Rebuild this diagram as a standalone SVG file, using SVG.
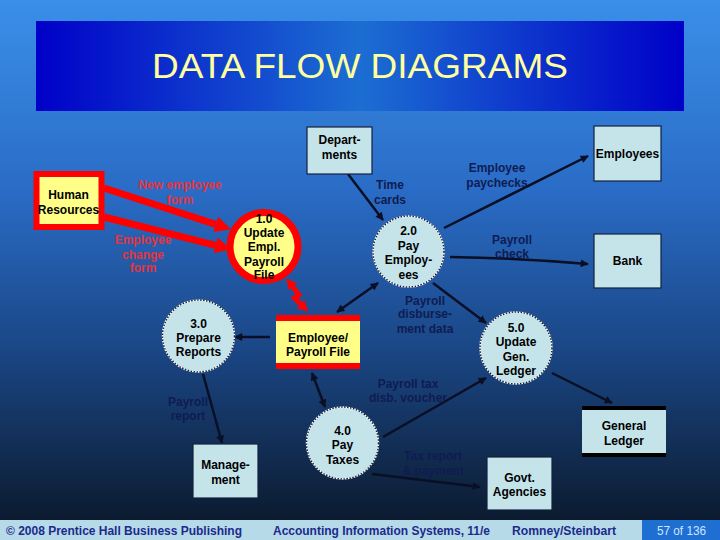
<svg xmlns="http://www.w3.org/2000/svg" width="720" height="540" viewBox="0 0 720 540">
<defs>
  <linearGradient id="bg" x1="0" y1="0" x2="0" y2="1">
    <stop offset="0" stop-color="#3a8fe8"/>
    <stop offset="0.35" stop-color="#2a6cc6"/>
    <stop offset="0.65" stop-color="#1a4684"/>
    <stop offset="1" stop-color="#0a1626"/>
  </linearGradient>
  <linearGradient id="tg" x1="0" y1="0" x2="1" y2="0">
    <stop offset="0" stop-color="#0000c8"/>
    <stop offset="0.5" stop-color="#1c6ed2"/>
    <stop offset="1" stop-color="#0000c8"/>
  </linearGradient>
  <marker id="ah" viewBox="0 0 10 10" refX="9" refY="5" markerWidth="10" markerHeight="8" markerUnits="userSpaceOnUse" orient="auto-start-reverse">
    <path d="M0,0 L10,5 L0,10 z" fill="#0a0f25"/>
  </marker>
  <marker id="ra" viewBox="0 0 10 10" refX="0" refY="5" markerWidth="16" markerHeight="18" markerUnits="userSpaceOnUse" orient="auto-start-reverse">
    <path d="M0,0 L10,5 L0,10 z" fill="#ff0000"/>
  </marker>
  <marker id="rs" viewBox="0 0 10 10" refX="0" refY="5" markerWidth="11" markerHeight="13" markerUnits="userSpaceOnUse" orient="auto-start-reverse">
    <path d="M0,0 L10,5 L0,10 z" fill="#ff0000"/>
  </marker>
</defs>
<style>
  text { font-family: "Liberation Sans", Arial, sans-serif; font-weight: bold; font-size: 12px; text-anchor: middle; }
  .nt { fill: #000000; }
  .fl { fill: #0f1c52; }
  .rl { fill: #e23440; }
  .box { fill: #c4e4ea; stroke: #14213f; stroke-width: 1.2; }
  .proc { fill: #c4e4ea; stroke: #ffffff; stroke-width: 1.5; }
  .procd { fill: none; stroke: #14213f; stroke-width: 1.5; stroke-dasharray: 1.5 1.5; }
  .cn { stroke: #0a0f25; stroke-width: 2.5; fill: none; marker-end: url(#ah); }
  .cn2 { stroke: #0a0f25; stroke-width: 2.5; fill: none; marker-end: url(#ah); marker-start: url(#ah); }
  .red { stroke: #ff0000; stroke-width: 7; fill: none; marker-end: url(#ra); }
  .ft { fill: #1c2a8c; font-size: 12px; }
</style>

<rect x="0" y="0" width="720" height="540" fill="url(#bg)"/>

<g id="title">
  <rect x="36" y="21" width="648" height="90" fill="url(#tg)"/>
  <text x="360" y="78" style="font-weight:normal;font-size:35px;fill:#ffffa0" textLength="416" lengthAdjust="spacingAndGlyphs">DATA FLOW DIAGRAMS</text>
</g>

<g id="connectors">
  <line class="red" x1="104" y1="188" x2="215.7" y2="224.4"/>
  <line class="red" x1="104" y1="217" x2="215.5" y2="245.3"/>
  <path d="M293,287 L299,295 L294.5,298 L300.5,304" stroke="#ff0000" stroke-width="5" fill="none" stroke-linejoin="miter" marker-start="url(#rs)" marker-end="url(#rs)"/>
  <line class="cn" x1="348" y1="174" x2="383" y2="220"/>
  <line class="cn" x1="444" y1="228" x2="588" y2="156"/>
  <path class="cn" d="M450,257 Q520,258 588,264"/>
  <line class="cn" x1="433" y1="283" x2="486" y2="323"/>
  <line class="cn2" x1="337" y1="312" x2="378" y2="283"/>
  <line class="cn" x1="270" y1="337" x2="235" y2="337"/>
  <line class="cn2" x1="312" y1="373" x2="325" y2="407"/>
  <line class="cn" x1="203" y1="374" x2="222" y2="443"/>
  <line class="cn" x1="383" y1="437" x2="486" y2="378"/>
  <line class="cn" x1="552" y1="373" x2="612" y2="403"/>
  <line class="cn" x1="372" y1="474" x2="480" y2="487"/>
</g>

<g id="human-resources">
  <rect x="36.5" y="174" width="65" height="53" fill="#ffff88" stroke="#ff0000" stroke-width="6"/>
  <text class="nt" x="68.5" y="198.5">Human</text>
  <text class="nt" x="68.5" y="213.5">Resources</text>
</g>

<g id="p1">
  <circle cx="264" cy="246.5" r="34" fill="#ffff88" stroke="#ff0000" stroke-width="7"/>
  <text class="nt" x="264" y="222.5">1.0</text>
  <text class="nt" x="264" y="236.5">Update</text>
  <text class="nt" x="264" y="250.5">Empl.</text>
  <text class="nt" x="264" y="265.5">Payroll</text>
  <text class="nt" x="264" y="278.5">File</text>
</g>

<g id="departments">
  <rect class="box" x="307" y="127" width="65" height="47"/>
  <text class="nt" x="339.5" y="143.5">Depart-</text>
  <text class="nt" x="339.5" y="158.5">ments</text>
</g>

<g id="p2">
  <circle class="proc" cx="408.5" cy="251.5" r="35.5"/>
  <circle class="procd" cx="408.5" cy="251.5" r="35.5"/>
  <text class="nt" x="408.5" y="234.5">2.0</text>
  <text class="nt" x="408.5" y="249.5">Pay</text>
  <text class="nt" x="408.5" y="263.5">Employ-</text>
  <text class="nt" x="408.5" y="278.5">ees</text>
</g>

<g id="employees">
  <rect class="box" x="594" y="126" width="67" height="55"/>
  <text class="nt" x="627.5" y="157.5">Employees</text>
</g>

<g id="bank">
  <rect class="box" x="594" y="234" width="67" height="54"/>
  <text class="nt" x="627.5" y="264.5">Bank</text>
</g>

<g id="p3">
  <circle class="proc" cx="198.5" cy="336" r="36"/>
  <circle class="procd" cx="198.5" cy="336" r="36"/>
  <text class="nt" x="198.5" y="327.5">3.0</text>
  <text class="nt" x="198.5" y="341.5">Prepare</text>
  <text class="nt" x="198.5" y="355.5">Reports</text>
</g>

<g id="payroll-file">
  <rect x="276" y="315" width="84" height="54" fill="#ffff88"/>
  <rect x="276" y="315" width="84" height="6" fill="#ff0000"/>
  <rect x="276" y="363" width="84" height="6" fill="#ff0000"/>
  <text class="nt" x="318" y="341.5">Employee/</text>
  <text class="nt" x="318" y="355.5">Payroll File</text>
</g>

<g id="p5">
  <circle class="proc" cx="516" cy="348" r="36"/>
  <circle class="procd" cx="516" cy="348" r="36"/>
  <text class="nt" x="516" y="331.5">5.0</text>
  <text class="nt" x="516" y="345.5">Update</text>
  <text class="nt" x="516" y="360.5">Gen.</text>
  <text class="nt" x="516" y="374.5">Ledger</text>
</g>

<g id="management">
  <rect class="box" x="193" y="444" width="65" height="54"/>
  <text class="nt" x="225.5" y="468.5">Manage-</text>
  <text class="nt" x="225.5" y="483.5">ment</text>
</g>

<g id="p4">
  <circle class="proc" cx="342.5" cy="443" r="36"/>
  <circle class="procd" cx="342.5" cy="443" r="36"/>
  <text class="nt" x="342.5" y="434.5">4.0</text>
  <text class="nt" x="342.5" y="448.5">Pay</text>
  <text class="nt" x="342.5" y="463.5">Taxes</text>
</g>

<g id="general-ledger">
  <rect x="582" y="406" width="84" height="51" fill="#c4e4ea"/>
  <rect x="582" y="406" width="84" height="4" fill="#000000"/>
  <rect x="582" y="453" width="84" height="4" fill="#000000"/>
  <text class="nt" x="624" y="429.5">General</text>
  <text class="nt" x="624" y="444.5">Ledger</text>
</g>

<g id="govt-agencies">
  <rect class="box" x="487" y="457" width="65" height="53"/>
  <text class="nt" x="519.5" y="481.5">Govt.</text>
  <text class="nt" x="519.5" y="495.5">Agencies</text>
</g>

<g id="flow-labels">
  <text class="rl" x="180" y="188.5">New employee</text>
  <text class="rl" x="180" y="204">form</text>
  <text class="rl" x="143" y="243.5">Employee</text>
  <text class="rl" x="143" y="258.5">change</text>
  <text class="rl" x="143" y="271.5">form</text>
  <text class="fl" x="390" y="188.5">Time</text>
  <text class="fl" x="390" y="203.5">cards</text>
  <text class="fl" x="497" y="171.5">Employee</text>
  <text class="fl" x="497" y="186.5">paychecks</text>
  <text class="fl" x="512" y="243.5">Payroll</text>
  <text class="fl" x="512" y="257.5">check</text>
  <text class="fl" x="425" y="304.5">Payroll</text>
  <text class="fl" x="425" y="317.5">disburse-</text>
  <text class="fl" x="425" y="332.5">ment data</text>
  <text class="fl" x="408" y="387.5">Payroll tax</text>
  <text class="fl" x="408" y="401.5">disb. voucher</text>
  <text class="fl" x="188" y="405.5">Payroll</text>
  <text class="fl" x="188" y="420">report</text>
  <text class="fl" x="433" y="459.5">Tax report</text>
  <text class="fl" x="433" y="474.5">&amp; payment</text>
</g>

<g id="footer">
  <rect x="0" y="520" width="720" height="20" fill="#b6dae8"/>
  <rect x="642" y="520" width="78" height="20" fill="#1f6fd2"/>
  <text class="ft" x="124" y="535" textLength="236" lengthAdjust="spacingAndGlyphs">© 2008 Prentice Hall Business Publishing</text>
  <text class="ft" x="381.5" y="535" textLength="217" lengthAdjust="spacingAndGlyphs">Accounting Information Systems, 11/e</text>
  <text class="ft" x="564" y="535" textLength="104" lengthAdjust="spacingAndGlyphs">Romney/Steinbart</text>
  <text class="ft" x="681.5" y="535" style="fill:#cfe6ff;font-weight:normal" textLength="49" lengthAdjust="spacingAndGlyphs">57 of 136</text>
</g>
</svg>
